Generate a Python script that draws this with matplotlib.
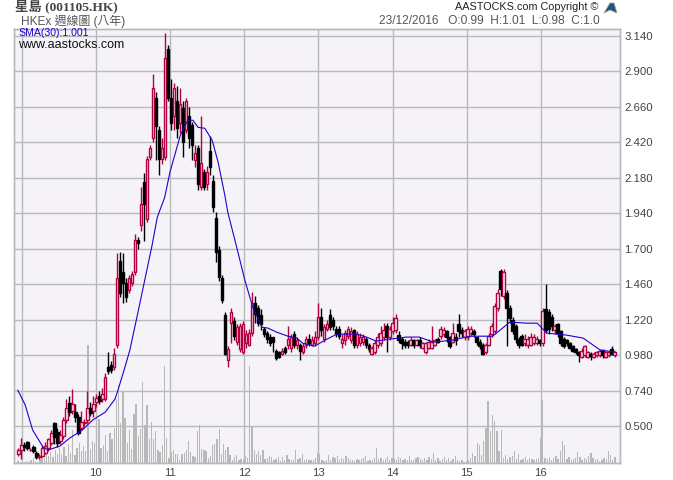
import matplotlib
matplotlib.use("Agg")
import matplotlib.pyplot as plt
from matplotlib.patches import Polygon
import numpy as np

plt.rcParams['font.family'] = ['Liberation Sans', 'Noto Sans CJK TC', 'DejaVu Sans']

# weekly-ish candles
open_px = [.31,.34,.37,.39,.34,.36,.32,.29,.30,.32,.35,.385,.52,.46,.40,.43,.54,.655,.60,.595,
           .56,.49,.52,.54,.62,.60,.66,.70,.68,.68,.90,.91,.90,1.05,1.62,1.54,1.47,1.42,1.47,1.54,
           1.76,1.86,2.15,1.90,2.32,2.45,2.72,2.50,2.31,2.32,3.05,2.72,2.60,2.70,2.55,2.65,2.50,2.60,2.54,2.30,
           2.38,2.12,2.22,2.14,2.36,2.16,1.91,1.69,1.50,1.25,.95,1.20,1.21,1.07,1.02,1.0,1.06,1.05,1.13,1.33,
           1.30,1.25,1.16,1.13,1.10,1.10,1.01,1.0,.99,1.03,1.05,1.03,1.12,1.05,1.05,1.0,1.05,1.09,1.05,1.06,
           1.10,1.24,1.09,1.16,1.25,1.22,1.16,1.16,1.06,1.08,1.11,1.08,1.15,1.05,1.06,1.07,1.09,1.05,.99,1.0,
           1.05,1.06,1.10,1.18,1.10,1.14,1.15,1.115,1.09,1.07,1.07,1.05,1.08,1.05,1.08,1.03,1.00,1.03,1.03,1.05,
           1.09,1.11,1.12,1.14,1.10,1.07,1.10,1.19,1.15,1.10,1.10,1.13,1.14,1.10,1.07,1.05,1.0,1.05,1.12,1.14,
           1.30,1.55,1.38,1.40,1.30,1.22,1.18,1.09,1.11,1.06,1.05,1.05,1.06,1.06,1.08,1.06,1.29,1.27,1.24,1.15,
           1.19,1.14,1.09,1.08,1.06,1.04,1.02,1.0,.97,.98,.97,.99,.97,.98,.98,1.01,.97,.98,1.02,.98]
close_px = [.34,.37,.36,.35,.34,.33,.29,.30,.35,.365,.41,.45,.425,.385,.44,.54,.62,.595,.65,.56,
            .45,.53,.53,.62,.59,.65,.69,.67,.72,.83,.87,.88,.99,1.50,1.40,1.47,1.37,1.50,1.53,1.76,
            1.74,2.0,2.0,2.31,2.38,2.79,2.53,2.31,2.38,2.99,2.72,2.55,2.79,2.52,2.68,2.42,2.70,2.45,2.40,2.35,
            2.14,2.28,2.12,2.22,2.25,1.98,1.68,1.51,1.35,.99,1.02,1.27,1.11,1.17,1.18,1.19,1.12,1.13,1.33,1.26,
            1.20,1.19,1.12,1.09,1.06,1.07,.96,.97,1.01,1.0,1.09,1.10,1.05,1.08,1.01,1.04,1.09,1.06,1.08,1.10,
            1.24,1.15,1.17,1.19,1.17,1.18,1.12,1.11,1.09,1.13,1.16,1.14,1.05,1.12,1.10,1.10,1.05,1.02,1.03,1.06,
            1.10,1.13,1.15,1.10,1.16,1.20,1.23,1.08,1.06,1.05,1.05,1.08,1.05,1.08,1.05,1.06,1.06,1.07,1.07,1.08,
            1.07,1.16,1.15,1.10,1.04,1.13,1.08,1.14,1.13,1.14,1.16,1.16,1.12,1.07,1.04,.99,1.05,1.11,1.18,1.31,
            1.40,1.43,1.54,1.30,1.23,1.14,1.09,1.05,1.05,1.09,1.09,1.10,1.10,1.09,1.06,1.28,1.15,1.16,1.18,1.18,
            1.13,1.06,1.04,1.06,1.03,1.01,1.0,.98,1.01,1.04,1.0,.975,.99,1.0,1.01,.98,1.0,1.0,.99,1.0]
high_px = [.35,.42,.39,.40,.35,.37,.33,.31,.37,.39,.42,.47,.53,.49,.47,.56,.68,.70,.75,.65,
           .58,.60,.55,.74,.66,.70,.72,.74,.76,.86,1.0,.94,1.03,1.67,1.68,1.67,1.50,1.52,1.55,1.80,
           1.78,2.12,2.21,2.33,2.40,2.88,2.76,2.53,2.45,3.16,3.08,2.85,2.82,2.80,2.79,2.70,2.72,2.66,2.56,2.40,
           2.40,2.60,2.24,2.26,2.46,2.20,1.95,1.72,1.52,1.27,1.04,1.30,1.24,1.19,1.20,1.21,1.15,1.16,1.41,1.38,
           1.32,1.29,1.17,1.14,1.12,1.10,1.02,1.01,1.03,1.04,1.18,1.12,1.14,1.10,1.06,1.06,1.11,1.12,1.11,1.14,
           1.33,1.30,1.19,1.22,1.29,1.24,1.18,1.18,1.12,1.15,1.18,1.17,1.16,1.14,1.13,1.12,1.10,1.06,1.04,1.08,
           1.13,1.18,1.20,1.20,1.18,1.24,1.26,1.14,1.10,1.09,1.08,1.10,1.09,1.09,1.10,1.07,1.07,1.09,1.18,1.09,
           1.10,1.18,1.17,1.15,1.11,1.20,1.13,1.26,1.17,1.16,1.18,1.18,1.16,1.11,1.09,1.06,1.06,1.13,1.20,1.33,
           1.43,1.56,1.56,1.42,1.32,1.24,1.19,1.10,1.12,1.12,1.11,1.13,1.12,1.11,1.09,1.30,1.46,1.29,1.26,1.19,
           1.20,1.15,1.10,1.09,1.07,1.05,1.03,1.01,1.03,1.05,1.01,1.0,1.0,1.01,1.02,1.02,1.01,1.01,1.04,1.01]
low_px = [.30,.28,.33,.34,.33,.32,.28,.28,.29,.31,.33,.37,.38,.36,.38,.41,.52,.57,.58,.53,
          .44,.47,.50,.52,.57,.56,.63,.65,.66,.67,.85,.86,.88,1.03,1.37,1.33,1.34,1.40,1.45,1.52,
          1.70,1.82,1.75,1.88,2.30,2.42,2.30,2.20,2.27,2.30,2.70,2.50,2.50,2.45,2.48,2.32,2.48,2.38,2.30,2.25,
          2.10,2.10,2.10,2.10,2.20,1.95,1.61,1.48,1.33,.98,.90,1.06,1.08,1.05,1.0,.99,1.03,1.04,1.11,1.20,
          1.18,1.15,1.10,1.06,1.04,1.0,.95,.96,.98,.99,1.02,1.0,1.03,1.02,.95,.99,1.03,1.04,1.04,1.04,
          1.08,1.11,1.07,1.14,1.15,1.15,1.10,1.09,1.03,1.05,1.09,1.06,1.03,1.03,1.04,1.05,1.03,1.00,.98,.99,
          1.03,1.04,1.08,1.00,1.08,1.12,1.13,1.06,1.02,1.03,1.03,1.04,1.03,1.04,1.03,1.02,.99,1.02,1.02,1.04,
          1.06,1.09,1.10,1.07,1.03,1.06,1.05,1.10,1.10,1.08,1.08,1.11,1.10,1.05,1.02,.98,.99,1.04,1.10,1.13,
          1.28,1.38,1.36,1.04,1.20,1.12,1.06,1.03,1.04,1.04,1.03,1.04,1.05,1.05,1.04,1.04,1.13,1.12,1.14,1.12,
          1.10,1.04,1.03,1.04,1.02,1.0,.99,.935,.96,.97,.96,.95,.96,.97,.97,.96,.96,.97,.98,.97]

volume = [2,1,3,1,2,1,3,5,2,1,4,9,5,14,7,11,6,13,9,15,8,16,7,19,10,33,8,15,20,12,17,
          12,118,14,22,20,25,44,15,18,28,12,30,24,35,64,78,40,72,45,20,33,14,49,59,27,34,81,38,58,24,
          41,24,32,13,11,18,97,25,5,11,13,9,9,3,9,10,13,22,11,7,6,32,38,14,13,12,5,7,18,19,
          24,34,9,19,13,16,8,3,6,8,3,4,3,7,5,97,36,13,9,12,8,13,4,5,7,6,3,4,6,2,
          6,3,8,4,3,3,13,4,5,9,3,4,3,3,3,5,10,9,3,2,3,8,3,6,5,7,3,5,4,7,
          5,3,3,2,4,3,4,5,7,2,3,3,5,15,4,5,3,4,6,3,5,4,3,6,5,3,4,3,7,3,
          3,5,6,4,3,5,3,6,4,10,3,5,2,4,6,3,5,2,4,7,3,2,3,1,2,3,5,10,7,20,
          18,8,22,35,62,32,48,42,32,12,33,5,8,4,6,7,12,4,9,3,4,6,3,5,4,3,4,5,25,63,5,
          4,6,3,5,7,4,12,22,18,4,6,3,4,5,11,6,3,5,4,7,10,5,3,4,2,3,5,4,12,8,3,6]

sma_year = [8.95,9.05,9.15,9.29,9.36,9.52,9.65,9.82,9.96,10.13,10.26,10.30,10.39,10.46,10.57,10.76,10.83,10.93,11.0,11.14,
            11.24,11.31,11.38,11.47,11.57,11.65,11.74,11.78,11.90,12.01,12.12,12.24,12.32,12.44,12.59,12.71,12.79,12.95,13.09,13.25,
            13.52,13.65,13.78,13.96,14.19,14.36,14.55,14.81,15.04,15.35,15.45,15.58,15.81,15.95,16.08,16.35,16.57,16.80,17.0]
sma_val = [.743,.642,.473,.358,.338,.365,.419,.473,.541,.595,.683,.743,.892,1.014,1.271,1.724,1.913,2.048,2.217,2.467,
           2.569,2.569,2.521,2.515,2.433,2.285,2.062,1.947,1.71,1.487,1.298,1.169,1.163,1.135,1.108,1.095,1.061,1.041,1.081,1.122,
           1.122,1.102,1.075,1.088,1.102,1.102,1.068,1.081,1.108,1.108,1.149,1.203,1.196,1.196,1.129,1.115,1.095,1.014,1.001]

price_ticks = [0.5, 0.74, 0.98, 1.22, 1.46, 1.7, 1.94, 2.18, 2.42, 2.66, 2.9, 3.14]
year_ticks = [9, 10, 11, 12, 13, 14, 15, 16]
year_labels = ['', '10', '11', '12', '13', '14', '15', '16']

W, H = 673, 480
bg = '#f5f3f8'
grid_c = '#b9b9b9'
red = '#b5003f'
L, R, T, B = 13.5, 620, 28.5, 462.7

fig = plt.figure(figsize=(W/100, H/100), dpi=100, facecolor='white')
ax_vol = fig.add_axes([L/W, 1-B/H, (R-L)/W, (B-T)/H])
ax = ax_vol.twinx()
ax.set_zorder(ax_vol.get_zorder()+1)
ax.patch.set_visible(False)
ax_vol.set_facecolor(bg)
# twinx hides the x axis of the twin, the price axes should carry it here
ax.xaxis.set_visible(True)
ax_vol.xaxis.set_visible(False)

x_min, x_max = 8.892, 17.066
o = np.array(open_px)
c = np.array(close_px)
h = np.array(high_px)
l = np.array(low_px)
n = min(len(o), len(c), len(h), len(l))
x = np.linspace(8.953, 16.998, n)
up = c[:n] >= o[:n]
w = 0.04

ax_vol.bar(np.linspace(8.953, 16.998, len(volume)), volume, width=0.018, color='#b8b8b8', linewidth=0)
ax_vol.set_ylim(0, B-T)
ax_vol.set_yticks([])

ax.vlines(x[~up], l[:n][~up], h[:n][~up], color='black', lw=1.0, zorder=3)
ax.vlines(x[up], l[:n][up], h[:n][up], color=red, lw=1.0, zorder=3)
for i in range(n):
    if up[i]:
        ax.bar(x[i], c[i]-o[i], bottom=o[i], width=w, facecolor=bg, edgecolor=red, linewidth=1.0, zorder=3)
    else:
        ax.bar(x[i], o[i]-c[i], bottom=c[i], width=w, facecolor='black', edgecolor='black', linewidth=1.0, zorder=3)
ax.plot(sma_year, sma_val, color='#2200cc', lw=0.8, zorder=4)

ax.set_xlim(x_min, x_max)
ax.set_ylim(0.252, 3.19)
ax.set_yticks(price_ticks)
ax.set_yticklabels(['%.3f' % p for p in price_ticks])
ax.set_xticks(year_ticks)
ax.set_xticklabels(year_labels)
ax.yaxis.tick_right()
ax.tick_params(axis='both', length=0, labelsize=8.2, labelcolor='#444444')
ax.tick_params(axis='y', pad=3)
ax.tick_params(axis='x', pad=4)
ax.grid(True, color=grid_c, lw=1.0, zorder=1)
ax.set_axisbelow(True)
for a in (ax, ax_vol):
    for s in a.spines.values():
        s.set_color(grid_c)
        s.set_linewidth(1.0)


def px_text(px, py, s, **kw):
    fig.text(px/W, 1-py/H, s, va='center', **kw)


px_text(15, 7, '星島 (001105.HK)', fontsize=9.6, fontweight='bold', color='#444444',
        family=['Liberation Serif', 'Noto Sans CJK TC'])
px_text(21, 21, 'HKEx 週線圖 (八年)', fontsize=8.6, color='#555555')
px_text(598, 6.5, 'AASTOCKS.com Copyright ©', fontsize=7.8, color='#222222', ha='right')
px_text(600, 20.5, '23/12/2016   O:0.99  H:1.01  L:0.98  C:1.0', fontsize=8.6, color='#555555', ha='right')
px_text(18, 32.5, 'SMA(30):1.001', fontsize=7.6, color='#2200cc', zorder=6)
px_text(18, 45, 'www.aastocks.com', fontsize=9, color='#111111', zorder=6)

# small logo next to the copyright line
fig.add_artist(Polygon([[604/W, 1-13/H], [610/W, 1-3/H], [614/W, 1-3/H], [617/W, 1-13/H], [610/W, 1-10/H]], closed=True,
                       facecolor='#1f4f8f', edgecolor='#9ab070', lw=0.6, transform=fig.transFigure))

fig.savefig('out.png', dpi=100)
